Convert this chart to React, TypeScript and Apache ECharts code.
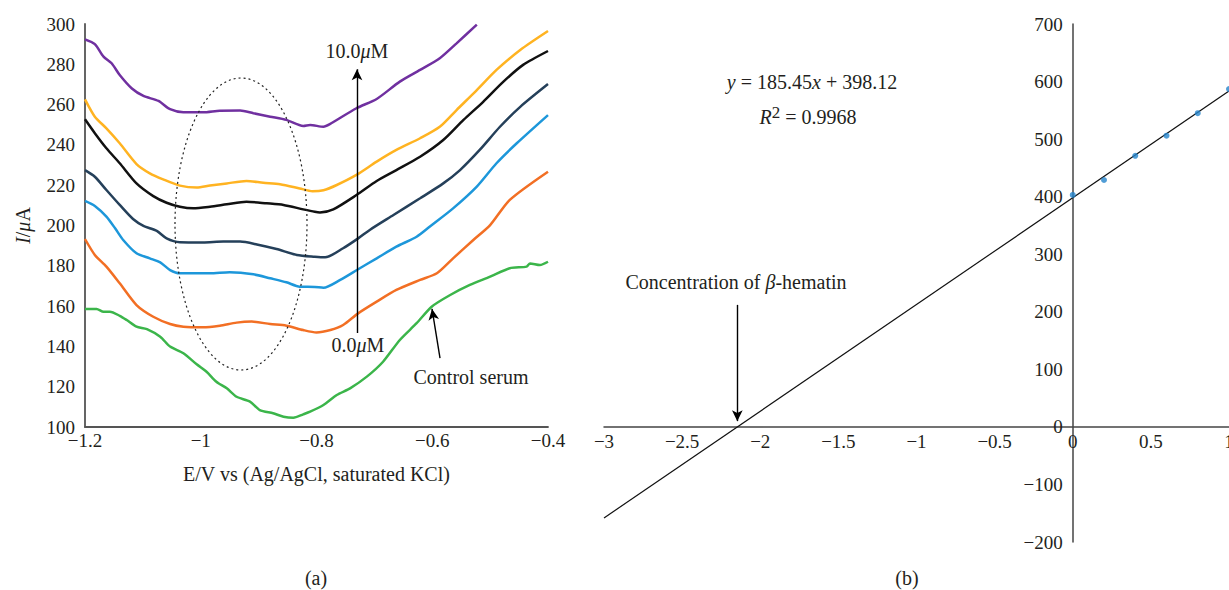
import React, { useEffect, useRef } from 'react';
import * as echarts from 'echarts';

const FONT = "'Liberation Serif', 'DejaVu Serif', serif";
const TXT = '#231F20';

// Panel (a): current (µA) vs potential (V)
const curve10uM = [[-1.2,292.4],[-1.183,290],[-1.168,283.8],[-1.154,280.5],[-1.14,274.7],[-1.119,268],[-1.099,264.3],[-1.073,261.8],[-1.053,257.7],[-1.03,256.2],[-0.996,256.2],[-0.967,257],[-0.932,257.1],[-0.909,255.7],[-0.88,254],[-0.852,252.4],[-0.823,249.4],[-0.811,249.9],[-0.788,249],[-0.777,250.3],[-0.731,258.2],[-0.696,262.8],[-0.656,271.4],[-0.621,277.2],[-0.587,283],[-0.558,290.4],[-0.523,299.7]];
const curveYellow = [[-1.2,262.6],[-1.183,254],[-1.163,248.2],[-1.14,240.8],[-1.111,230.5],[-1.088,225.9],[-1.065,222.9],[-1.036,219.8],[-1.007,218.8],[-0.984,219.8],[-0.955,220.9],[-0.921,222.1],[-0.892,221.2],[-0.863,220.5],[-0.829,218.4],[-0.807,217],[-0.788,217.5],[-0.765,220.1],[-0.731,225.1],[-0.696,231.7],[-0.662,237.5],[-0.621,243.3],[-0.587,249],[-0.558,257.3],[-0.523,267.2],[-0.489,277.2],[-0.448,287.1],[-0.4,296.5]];
const curveBlack = [[-1.2,252.7],[-1.183,245.8],[-1.163,238.3],[-1.14,230.9],[-1.111,220.9],[-1.082,214.6],[-1.059,211.3],[-1.036,209.3],[-1.013,208.5],[-0.984,209.3],[-0.955,210.5],[-0.921,211.8],[-0.886,211],[-0.857,210.2],[-0.823,208],[-0.803,206.8],[-0.794,206.5],[-0.771,208],[-0.731,215.1],[-0.696,222.1],[-0.662,227.5],[-0.621,234.1],[-0.581,242.4],[-0.546,252.4],[-0.512,261.4],[-0.477,271.4],[-0.443,279.7],[-0.4,286.6]];
const curveSlate = [[-1.2,227.5],[-1.183,224.2],[-1.163,217.6],[-1.14,210.2],[-1.117,203.2],[-1.099,199.8],[-1.076,197.3],[-1.059,193.6],[-1.036,191.7],[-0.996,191.6],[-0.961,192],[-0.932,192],[-0.903,190.6],[-0.869,188.3],[-0.834,185.4],[-0.803,184.5],[-0.785,184.2],[-0.754,188.7],[-0.728,193.6],[-0.708,197.8],[-0.667,205.2],[-0.621,213.5],[-0.581,220.9],[-0.552,227.5],[-0.518,237.5],[-0.483,249],[-0.448,258.9],[-0.4,270.2]];
const curveBlue = [[-1.2,212.2],[-1.183,209.7],[-1.163,204.4],[-1.148,198.6],[-1.134,192.8],[-1.111,186.2],[-1.088,183.7],[-1.07,181.7],[-1.053,177.9],[-1.036,176.3],[-0.984,176.3],[-0.95,176.8],[-0.909,175.8],[-0.88,173.8],[-0.852,171.8],[-0.829,169.6],[-0.803,169.5],[-0.788,169.1],[-0.759,173],[-0.728,178.3],[-0.696,183.7],[-0.662,189.5],[-0.627,194.4],[-0.604,199.5],[-0.564,208.5],[-0.523,219.3],[-0.489,230.9],[-0.454,240.8],[-0.4,254.8]];
const curve0uM = [[-1.2,193.3],[-1.183,185.4],[-1.163,179.6],[-1.14,171.3],[-1.111,160.5],[-1.082,154.7],[-1.053,151.1],[-1.03,149.8],[-0.996,149.5],[-0.967,150.3],[-0.938,151.8],[-0.912,152.3],[-0.88,151.1],[-0.852,150.3],[-0.823,148.1],[-0.8,146.9],[-0.776,148.1],[-0.754,150.6],[-0.728,156.4],[-0.696,162.2],[-0.662,168],[-0.621,173],[-0.592,176.3],[-0.564,183.7],[-0.529,192.8],[-0.5,200.2],[-0.466,212.7],[-0.4,226.7]];
const curveControl = [[-1.2,158.6],[-1.18,158.6],[-1.168,157.2],[-1.157,157.2],[-1.14,155.2],[-1.128,153.1],[-1.111,149.8],[-1.093,148.6],[-1.07,144.8],[-1.053,139.9],[-1.03,136.6],[-1.007,131.1],[-0.99,127.4],[-0.973,122.5],[-0.955,119.2],[-0.938,115],[-0.915,112.6],[-0.898,108.4],[-0.875,106.8],[-0.857,105.1],[-0.84,104.6],[-0.823,106.3],[-0.811,107.6],[-0.788,110.9],[-0.765,115.9],[-0.742,119.2],[-0.713,125],[-0.685,132.4],[-0.656,143.2],[-0.627,151.5],[-0.601,159.7],[-0.569,165.5],[-0.535,170.5],[-0.5,174.6],[-0.466,178.8],[-0.437,179.6],[-0.431,181.2],[-0.414,180.4],[-0.4,182]];

const CURVES = [
  { name: '10.0 µM', data: curve10uM, color: '#7030A0' },
  { name: 'c5', data: curveYellow, color: '#FFB321' },
  { name: 'c4', data: curveBlack, color: '#111111' },
  { name: 'c3', data: curveSlate, color: '#25405A' },
  { name: 'c2', data: curveBlue, color: '#1D97DA' },
  { name: '0.0 µM', data: curve0uM, color: '#F26F24' },
  { name: 'Control serum', data: curveControl, color: '#3BB54A' },
];

// Panel (b): calibration
const CONC_X = [0, 0.2, 0.4, 0.6, 0.8, 1.0];
const CONC_Y = [403, 429, 471, 506, 545, 587];
const SLOPE = 185.45;
const INTERCEPT = 398.12;
const FIT_X = [-3, 1];
const B_X_RANGE = [-3, 1];
const B_Y_RANGE = [-200, 700];

const B_GRID = { left: 604, top: 24, width: 625, height: 518 };
// offsets that put panel (b)'s axes through the origin (labels follow the lines)
const B_X_OFFSET = -(B_GRID.height * (0 - B_Y_RANGE[0])) / (B_Y_RANGE[1] - B_Y_RANGE[0]);
const B_Y_OFFSET = -(B_GRID.width * (0 - B_X_RANGE[0])) / (B_X_RANGE[1] - B_X_RANGE[0]);

const fmt = (v: number) => {
  const s = String(Math.round(v * 1000) / 1000);
  return s.replace('-', '\u2212');
};

const FS = 19;
const baseText = { fontFamily: FONT, fontSize: FS, color: TXT };
const annText = { fontFamily: FONT, fontSize: 20, color: TXT };
const italic = { fontFamily: FONT, fontSize: 20, fontStyle: 'italic', color: TXT };

export default function App() {
  const ref = useRef<HTMLDivElement>(null);
  useEffect(() => {
    if (!ref.current) return;
    const chart = echarts.init(ref.current, undefined, { renderer: 'svg' });
    const root = -INTERCEPT / SLOPE;
    const option: any = {
      animation: false,
      backgroundColor: '#ffffff',
      textStyle: { fontFamily: FONT },
      grid: [
        { left: 85, top: 24, width: 463, height: 403, outerBoundsMode: 'none', containLabel: false },
        { ...B_GRID, outerBoundsMode: 'none', containLabel: false },
      ],
      xAxis: [
        {
          type: 'value', gridIndex: 0, min: -1.2, max: -0.4, interval: 0.2,
          axisLine: { onZero: false, lineStyle: { color: '#555', width: 1.8 } },
          axisTick: { show: false }, splitLine: { show: false },
          axisLabel: { ...baseText, margin: 4, formatter: fmt },
          name: 'E/V vs (Ag/AgCl, saturated KCl)', nameLocation: 'middle', nameGap: 37,
          nameTextStyle: { ...annText },
        },
        {
          type: 'value', gridIndex: 1, min: B_X_RANGE[0], max: B_X_RANGE[1], interval: 0.5,
          offset: B_X_OFFSET,
          axisLine: { onZero: false, lineStyle: { color: '#444', width: 1.5 } },
          axisTick: { show: false }, splitLine: { show: false },
          axisLabel: { ...baseText, margin: 5, formatter: fmt },
        },
      ],
      yAxis: [
        {
          type: 'value', gridIndex: 0, min: 100, max: 300, interval: 20,
          axisLine: { show: true, onZero: false, lineStyle: { color: '#555', width: 1.8 } },
          axisTick: { show: false }, splitLine: { show: false },
          axisLabel: { ...baseText, margin: 10, formatter: fmt },
          name: '{i|I}/{i|\u03BC}A', nameLocation: 'middle', nameGap: 52,
          nameTextStyle: { ...annText, rich: { i: { ...italic } } },
        },
        {
          type: 'value', gridIndex: 1, min: B_Y_RANGE[0], max: B_Y_RANGE[1], interval: 100,
          offset: B_Y_OFFSET,
          axisLine: { show: true, onZero: false, lineStyle: { color: '#444', width: 1.5 } },
          axisTick: { show: false }, splitLine: { show: false },
          axisLabel: { ...baseText, margin: 10, formatter: fmt },
        },
      ],
      series: [
        ...CURVES.map((c, i) => ({
          type: 'line', name: c.name, xAxisIndex: 0, yAxisIndex: 0,
          data: c.data, showSymbol: false, smooth: 0.25,
          lineStyle: { color: c.color, width: 2.5 }, itemStyle: { color: c.color },
          z: 3,
          ...(i === 0 ? {
            markLine: {
              silent: true, symbol: ['none', 'arrow'], symbolSize: [8, 11],
              label: { show: false },
              lineStyle: { color: '#000', type: 'solid', width: 1.4 },
              data: [
                [{ coord: [-0.73, 146.6] }, { coord: [-0.73, 277.5] }],
                [{ coord: [-0.5866, 134.2] }, { coord: [-0.6004, 158.6] }],
              ],
            },
          } : {}),
        })),
        {
          type: 'line', name: 'fit', xAxisIndex: 1, yAxisIndex: 1,
          data: FIT_X.map((x) => [x, SLOPE * x + INTERCEPT]),
          showSymbol: false, lineStyle: { color: '#111', width: 1.2 }, z: 2,
          markLine: {
            silent: true, symbol: ['none', 'arrow'], symbolSize: [8, 11],
            label: { show: false },
            lineStyle: { color: '#000', type: 'solid', width: 1.4 },
            data: [[{ coord: [root, 212] }, { coord: [root, 10] }]],
          },
        },
        {
          type: 'scatter', name: 'points', xAxisIndex: 1, yAxisIndex: 1,
          data: CONC_X.map((x, i) => [x, CONC_Y[i]]),
          symbolSize: 6, itemStyle: { color: '#2585CC' }, z: 4,
        },
      ],
      graphic: [
        {
          type: 'ellipse', shape: { cx: 241, cy: 224, rx: 66, ry: 146 },
          style: { fill: 'none', stroke: '#222', lineWidth: 1.2, lineDash: [2, 3] }, z: 10,
        },
        {
          type: 'text', x: 357, y: 51,
          style: {
            text: '10.0{i|\u03BC}M', ...annText, fill: TXT, align: 'center', verticalAlign: 'middle',
            rich: { i: italic },
          },
        },
        {
          type: 'text', x: 358, y: 345,
          style: {
            text: '0.0{i|\u03BC}M', ...annText, fill: TXT, align: 'center', verticalAlign: 'middle',
            rich: { i: italic },
          },
        },
        {
          type: 'text', x: 471, y: 377,
          style: { text: 'Control serum', ...annText, fill: TXT, align: 'center', verticalAlign: 'middle' },
        },
        {
          type: 'text', x: 736, y: 282,
          style: {
            text: 'Concentration of {i|\u03B2}-hematin', ...annText, fill: TXT, align: 'center', verticalAlign: 'middle',
            rich: { i: italic },
          },
        },
        {
          type: 'text', x: 812, y: 82,
          style: {
            text: '{i|y} = 185.45{i|x} + 398.12', ...annText, fill: TXT, align: 'center', verticalAlign: 'middle',
            rich: { i: italic },
          },
        },
        {
          type: 'text', x: 808, y: 117,
          style: {
            text: '{i|R}{s|2} = 0.9968', ...annText, fill: TXT, align: 'center', verticalAlign: 'middle',
            rich: {
              i: italic,
              s: { fontFamily: FONT, fontSize: 17, color: TXT, padding: [0, 0, 10, 0] },
            },
          },
        },
        {
          type: 'text', x: 316, y: 578,
          style: { text: '(a)', ...annText, fill: TXT, align: 'center', verticalAlign: 'middle' },
        },
        {
          type: 'text', x: 907, y: 578,
          style: { text: '(b)', ...annText, fill: TXT, align: 'center', verticalAlign: 'middle' },
        },
      ],
    };
    chart.setOption(option);
    return () => chart.dispose();
  }, []);
  return (
    <div
      ref={ref}
      style={{ position: 'absolute', left: 0, top: 0, width: 1229, height: 590, background: '#fff' }}
    />
  );
}
